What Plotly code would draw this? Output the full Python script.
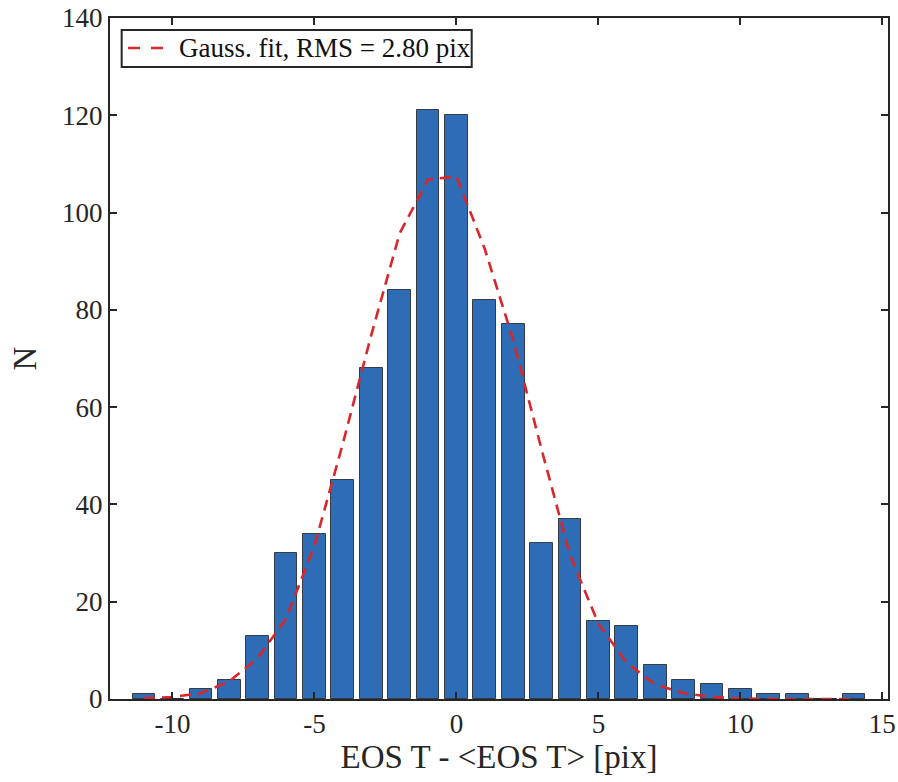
import plotly.graph_objects as go

# Histogram data (bin centres and counts)
bin_centers = [-11, -10, -9, -8, -7, -6, -5, -4, -3, -2, -1, 0, 1, 2, 3, 4, 5, 6, 7, 8, 9, 10, 11, 12, 13, 14]
counts = [1, 0, 2, 4, 13, 30, 34, 45, 68, 84, 121, 120, 82, 77, 32, 37, 16, 15, 7, 4, 3, 2, 1, 1, 0, 1]

# Gaussian fit curve values read at the bin centres
fit_values = [0.15, 0.4, 1.2, 3.6, 8.4, 16.5, 31.5, 52.5, 74.8, 95.7, 106.8, 107.4, 92.5,
              73.8, 51.3, 29.6, 15.5, 7.4, 3.0, 1.2, 0.4, 0.1, 0.02, 0.0, 0.0, 0.0]
fit_label = "Gauss. fit, RMS = 2.80 pix"

x_ticks = [-10, -5, 0, 5, 10, 15]
y_ticks = [0, 20, 40, 60, 80, 100, 120, 140]

FONT = "Liberation Serif, Times New Roman, serif"
AX = "#262626"
RED = "#D9262B"

fig = go.Figure()
fig.add_trace(go.Bar(
    x=bin_centers, y=counts, width=0.8,
    marker=dict(color="#2E6DB6", line=dict(color="rgba(30,30,30,0.8)", width=1)),
    showlegend=False,
))
fig.add_trace(go.Scatter(
    x=bin_centers, y=fit_values, mode="lines",
    line=dict(color=RED, width=2.6, dash="11px,7px"),
    name=fit_label, showlegend=False,
))

# Legend box drawn in paper coordinates (MATLAB-style compact legend)
fig.add_shape(type="rect", xref="paper", yref="paper",
              x0=0.0150, x1=0.4649, y0=0.9280, y1=0.9824,
              line=dict(color=AX, width=2), fillcolor="white", layer="above")
fig.add_shape(type="line", xref="paper", yref="paper",
              x0=0.0231, x1=0.0690, y0=0.9560, y1=0.9560,
              line=dict(color=RED, width=2.6, dash="12px,11px"), layer="above")
fig.add_annotation(xref="paper", yref="paper", x=0.0861, y=0.9560,
                   xanchor="left", yanchor="middle", showarrow=False,
                   text=fit_label, font=dict(family=FONT, size=27, color="#111111"))

fig.update_layout(
    width=898, height=782,
    margin=dict(l=110, r=10, t=18, b=83),
    plot_bgcolor="white", paper_bgcolor="white",
    font=dict(family=FONT, color=AX, size=27),
    showlegend=False,
    bargap=0,
)
fig.update_xaxes(
    range=[-12.2, 15.2], tickvals=x_ticks, ticktext=[str(v) for v in x_ticks],
    showgrid=False, zeroline=False,
    showline=True, linecolor=AX, linewidth=2, mirror="ticks",
    ticks="inside", ticklen=7, tickwidth=1.5, tickcolor=AX,
    tickfont=dict(size=27, family=FONT, color=AX),
    title=dict(text="EOS T - &lt;EOS T&gt; [pix]", font=dict(size=33, family=FONT, color=AX), standoff=6),
    automargin=False,
)
fig.update_yaxes(
    range=[0, 140], tickvals=y_ticks, ticktext=[str(v) for v in y_ticks],
    showgrid=False, zeroline=False,
    showline=True, linecolor=AX, linewidth=2, mirror="ticks",
    ticks="inside", ticklen=7, tickwidth=1.5, tickcolor=AX,
    tickfont=dict(size=27, family=FONT, color=AX),
    title=dict(text="N", font=dict(size=33, family=FONT, color=AX), standoff=16),
    automargin=False,
)

fig.write_html("out.html")
